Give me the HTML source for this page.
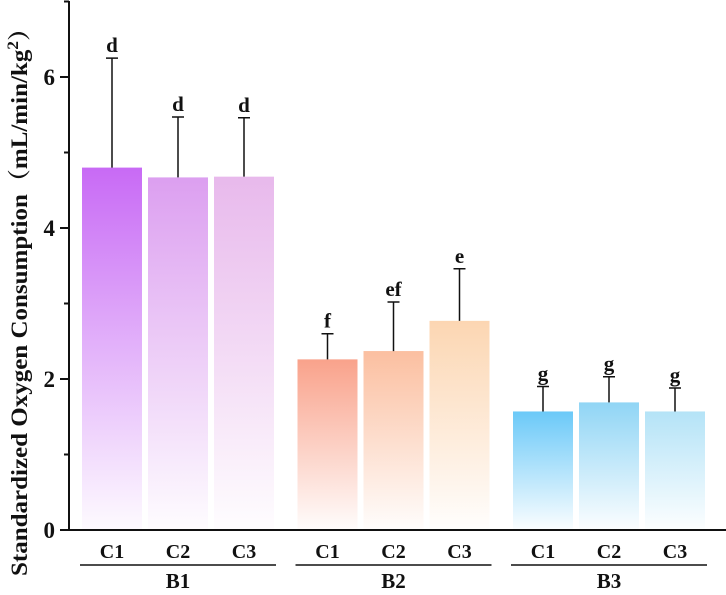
<!DOCTYPE html>
<html><head><meta charset="utf-8"><style>
body{margin:0;background:#fff}
svg text{font-family:"Liberation Serif","Noto Serif CJK SC",serif;font-weight:bold;fill:#111}
</style></head><body>
<svg id="chart" width="726" height="590" xmlns="http://www.w3.org/2000/svg">
<defs id="defs"></defs>
<g id="bars"></g>
<g id="axes"></g>
<text transform="translate(27,296) rotate(-90)" text-anchor="middle" font-size="23" textLength="560" lengthAdjust="spacingAndGlyphs">Standardized Oxygen Consumption（mL/min/kg<tspan dy="-9" font-size="16">2</tspan><tspan dy="9">）</tspan></text>
</svg>
<script>
const groups=["B1","B2","B3"];
const subs=["C1","C2","C3"];
const values=[4.8,4.67,4.68,2.26,2.37,2.77,1.57,1.69,1.57];
const errors=[1.45,0.8,0.78,0.34,0.65,0.69,0.33,0.34,0.31];
const letters=["d","d","d","f","ef","e","g","g","g"];
const colors=["#c86af5","#dc9ff0","#e8b9ec","#f9a28b","#fbbfa0","#fcd6b2","#6bc9f8","#90d5f5","#b4e3f7"];
const yTicks=[0,2,4,6];
const NS="http://www.w3.org/2000/svg";
const y0=530,pxPerUnit=75.5,axisX=69;
function y(v){return y0-v*pxPerUnit;}
function x(i){const g=Math.floor(i/3),s=i%3;return 82+g*215.5+s*66;}
const barW=60;
function mk(tag,attrs,parent,txt){const e=document.createElementNS(NS,tag);for(const k in attrs)e.setAttribute(k,attrs[k]);if(txt!==undefined)e.textContent=txt;parent.appendChild(e);return e;}
const defs=document.getElementById('defs'),bars=document.getElementById('bars'),axes=document.getElementById('axes');
values.forEach((v,i)=>{
  const gr=mk('linearGradient',{id:'g'+i,x1:0,y1:0,x2:0,y2:1},defs);
  mk('stop',{offset:0,'stop-color':colors[i]},gr);
  mk('stop',{offset:1,'stop-color':colors[i],'stop-opacity':0.03},gr);
  const r=mk('rect',{x:x(i),y:y(v),width:barW,height:y0-y(v),fill:'url(#g'+i+')'},bars);
  
  
  const cx=x(i)+barW/2,top=y(v+errors[i]);
  const eb=mk('path',{d:`M${cx} ${y(v)}V${top}M${cx-6} ${top}H${cx+6}`,stroke:'#111','stroke-width':1.5,fill:'none'},bars);
  
  
  const t=mk('text',{x:cx,y:top-6,'text-anchor':'middle','font-size':21},bars,letters[i]);
  
  
  const cl=mk('text',{x:cx,y:558,'text-anchor':'middle','font-size':20},axes,subs[i%3]);
  
  
});
groups.forEach((g,gi)=>{
  const x1=x(gi*3)-2,x2=x(gi*3+2)+barW+2;
  const l=mk('line',{x1:x1,x2:x2,y1:565,y2:565,stroke:'#111','stroke-width':1.5},axes);
  
  
  const t=mk('text',{x:(x1+x2)/2,y:588,'text-anchor':'middle','font-size':21},axes,g);
  
  
});
const ax=mk('path',{d:`M${axisX} 1V${y0}H726`,stroke:'#111','stroke-width':2,fill:'none'},axes);


yTicks.forEach(v=>{
  const tk=mk('line',{x1:axisX-9,x2:axisX,y1:y(v),y2:y(v),stroke:'#111','stroke-width':2},axes);
  
  
  const m=mk('line',{x1:axisX-5,x2:axisX,y1:y(v+1),y2:y(v+1),stroke:'#111','stroke-width':2},axes);
  
  
  const t=mk('text',{x:axisX-14,y:y(v)+8,'text-anchor':'end','font-size':23},axes,String(v));
  
  
});
</script>
</body></html>
